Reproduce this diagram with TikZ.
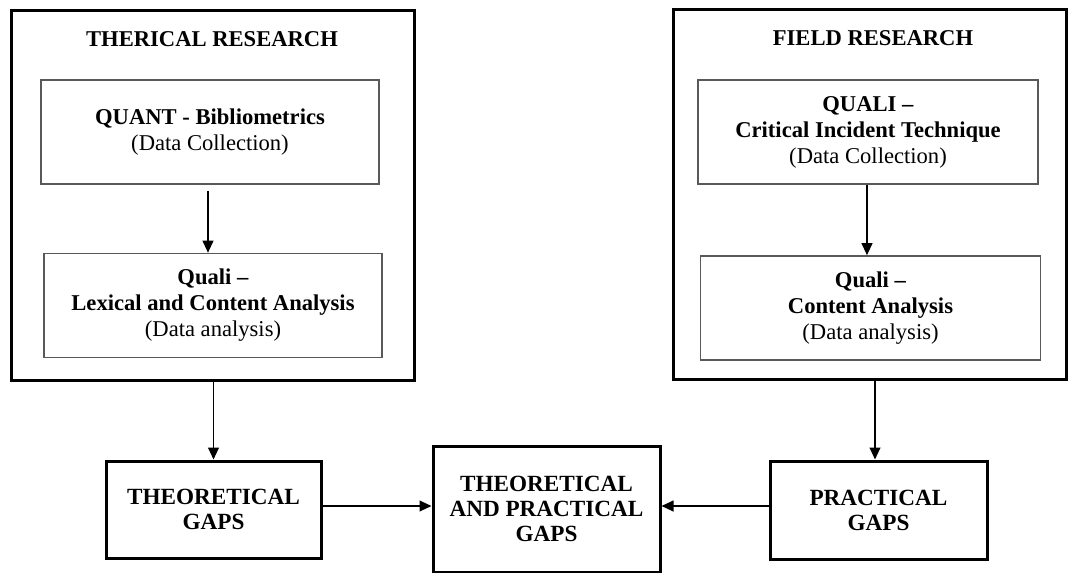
\documentclass[tikz,border=0pt]{standalone}
\usepackage{fontspec}
\setmainfont{Liberation Serif}
\usepackage{tikz}
\usetikzlibrary{arrows.meta,positioning}

\begin{document}
\begin{tikzpicture}[->,>={Triangle[length=6pt,width=5.4pt]},x=0.5pt,y=-0.5pt,
                    line width=0.8pt]
  \tikzstyle{outer}=[draw,line width=1.5pt,minimum height=185pt]
  \tikzstyle{inner}=[draw=black!65,line width=0.8pt,align=center,minimum height=52pt,
                     font=\fontsize{11.3}{13}\selectfont]
  \tikzstyle{gap}=[draw,line width=1.5pt,align=center,
                   font=\fontsize{11.6}{12.5}\selectfont\bfseries]
  \tikzstyle{title}=[font=\fontsize{11.3}{13}\selectfont\bfseries]

  \useasboundingbox (0,0) rectangle (1072,573);

  % theoretical side
  \node[outer,minimum width=201.5pt] (TR) at (212.5,195) {};
  \node[title] (TRt) at (212,39) {THERICAL RESEARCH};
  \node[inner,minimum width=169pt] (Q1) at (210,132)
       {\textbf{QUANT - Bibliometrics}\\(Data Collection)};
  \node[inner,minimum width=169pt] (Q2) at (213,305.5)
       {\textbf{Quali –}\\\textbf{Lexical and Content Analysis}\\(Data analysis)};

  % field side
  \node[outer,minimum width=196.5pt] (FR) at (869.5,194) {};
  \node[title] (FRt) at (873,38) {FIELD RESEARCH};
  \node[inner,minimum width=170pt] (F1) at (868,132)
       {\textbf{QUALI –}\\\textbf{Critical Incident Technique}\\(Data Collection)};
  \node[inner,minimum width=170pt] (F2) at (870.5,308)
       {\textbf{Quali –}\\\textbf{Content Analysis}\\(Data analysis)};

  % gaps
  \node[gap,minimum width=107.5pt,minimum height=48.5pt] (TG) at (213.5,509.5)
       {THEORETICAL\\GAPS};
  \node[gap,minimum width=113.5pt,minimum height=63pt] (TPG) at (546.5,509)
       {THEORETICAL\\AND PRACTICAL\\GAPS};
  \node[gap,minimum width=108.5pt,minimum height=49pt] (PG) at (878.5,510)
       {PRACTICAL\\GAPS};

  \draw[shorten <=3pt] (Q1.south -| 208,0) -- (Q2.north -| 208,0);
  \draw (F1.south -| 867,0) -- (F2.north -| 867,0);
  \draw (TR.south -| TG.north) -- (TG.north);
  \draw (FR.south -| 875,0) -- (PG.north -| 875,0);
  \draw (TG.east |- 0,506) -- (TPG.west |- 0,506);
  \draw (PG.west |- 0,506) -- (TPG.east |- 0,506);
\end{tikzpicture}
\end{document}
